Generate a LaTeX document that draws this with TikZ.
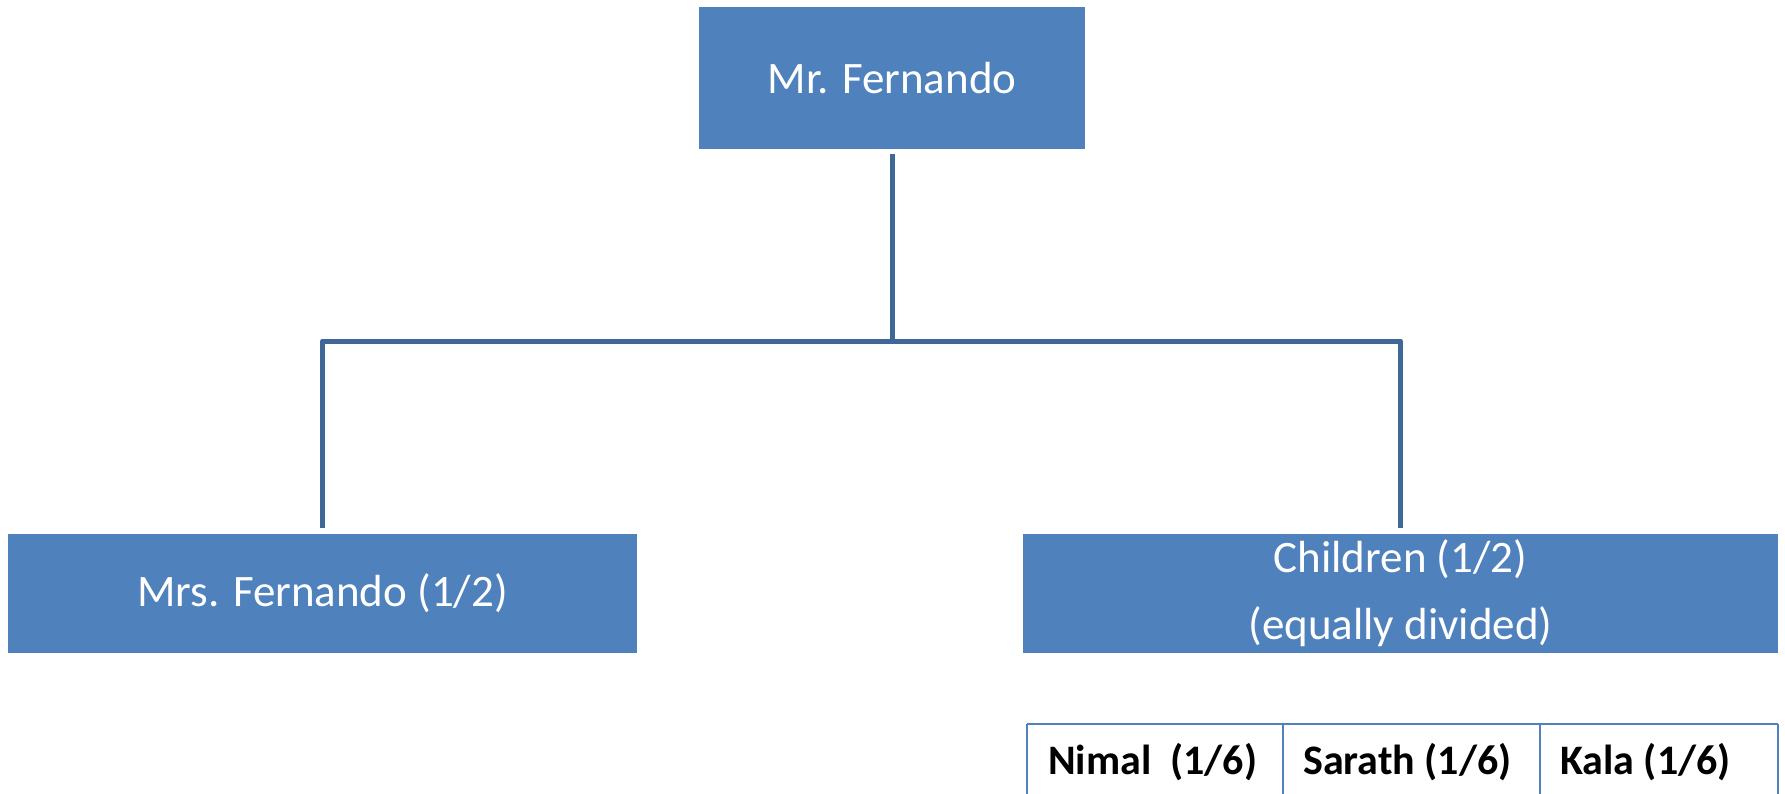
\documentclass[tikz,border=0pt]{standalone}
\usepackage{fontspec}
\setmainfont{Carlito}
\definecolor{boxblue}{HTML}{4F81BD}
\definecolor{linkblue}{HTML}{3F6797}
\begin{document}
\begin{tikzpicture}[x=1pt,y=-1pt,
  person/.style={fill=boxblue,draw=none,text=white,inner sep=0pt,
    font=\fontsize{45}{67}\selectfont,align=center},
  conn/.style={draw=linkblue,line width=5pt,line join=round},
  grid/.style={draw=boxblue,line width=2.2pt},
  cell/.style={anchor=base west,inner sep=0pt,text=black,
    font=\fontsize{42}{50}\selectfont\bfseries}]
\useasboundingbox (0,0) rectangle (1785,793);
\clip (0,0) rectangle (1785,793);
\node[person,minimum width=386pt,minimum height=142pt] (top) at (892,78) {Mr. Fernando};
\node[person,minimum width=629pt,minimum height=119pt] (mrs) at (322.5,593.5) {Mrs. Fernando (1/2)};
\node[person,minimum width=755pt,minimum height=119pt] (kids) at (1400.5,593.5) {Children (1/2)\\(equally divided)};
\coordinate (bar) at (0,341);
\draw[conn] ([yshift=-5pt]top.south) -- (top.south |- bar);
\draw[conn] ([yshift=6pt]mrs.north) -- (mrs.north |- bar) -- (kids.north |- bar) -- ([yshift=6pt]kids.north);
% table
\coordinate (t1) at (1027,724);
\coordinate (t2) at (1283,724);
\coordinate (t3) at (1540,724);
\coordinate (t4) at (1778,724);
\draw[grid] (t1) -- (t4);
\draw[grid] (t1) -- ++(0,90);
\draw[grid] (t2) -- ++(0,90);
\draw[grid] (t3) -- ++(0,90);
\draw[grid] (t4) -- ++(0,90);
\node[cell] (nimal) at (1048,774) {Nimal\ \ (1/6)};
\node[cell] (sarath) at (1303,774) {Sarath (1/6)};
\node[cell] (kala) at (1560,774) {Kala (1/6)};
\end{tikzpicture}
\end{document}
